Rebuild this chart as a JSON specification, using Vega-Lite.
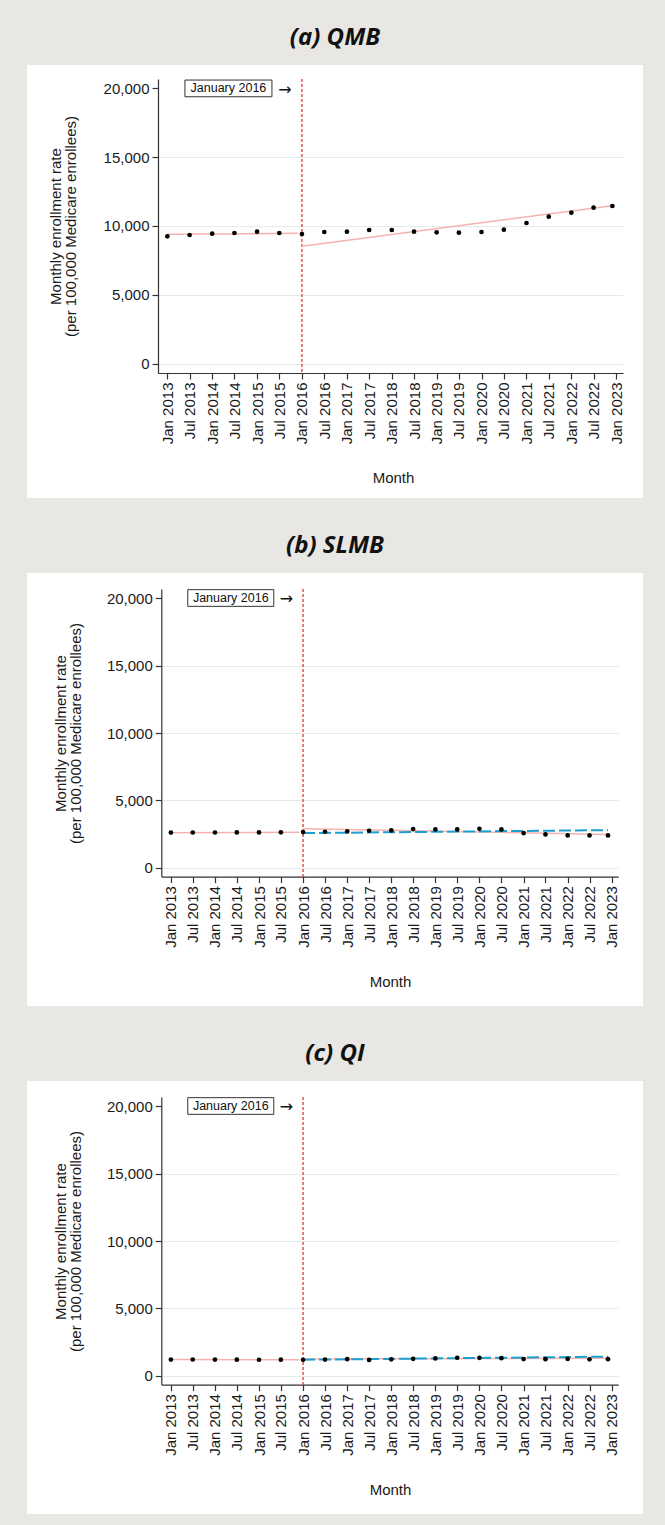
{
  "$schema": "https://vega.github.io/schema/vega-lite/v6.json",
  "background": "#e8e7e4",
  "padding": {"left": 27, "top": 26, "right": 22, "bottom": 14},
  "spacing": 35,
  "config": {
    "view": {"stroke": null, "fill": "white"},
    "font": "Liberation Sans",
    "axis": {
      "labelFont": "Liberation Sans", "titleFont": "Liberation Sans",
      "labelFontSize": 15, "titleFontSize": 15, "titleFontWeight": "normal",
      "labelColor": "#1a1a1a", "titleColor": "#1a1a1a",
      "tickColor": "#333333", "tickSize": 6, "tickWidth": 1.2,
      "domainColor": "#333333", "domainWidth": 1.2
    },
    "title": {"font": "Open Sans", "fontSize": 24, "fontStyle": "italic", "fontWeight": "bold", "color": "#111111", "anchor": "middle", "frame": "bounds", "offset": 14}
  },
  "vconcat": [
    {
      "title": "(a) QMB",
      "width": 616, "height": 433,
      "data": {"values": [
        {"month": "2013-01-01", "rate": 9252, "series": "obs"},
        {"month": "2013-07-01", "rate": 9346, "series": "obs"},
        {"month": "2014-01-01", "rate": 9441, "series": "obs"},
        {"month": "2014-07-01", "rate": 9492, "series": "obs"},
        {"month": "2015-01-01", "rate": 9586, "series": "obs"},
        {"month": "2015-07-01", "rate": 9492, "series": "obs"},
        {"month": "2016-01-01", "rate": 9419, "series": "obs"},
        {"month": "2016-07-01", "rate": 9564, "series": "obs"},
        {"month": "2017-01-01", "rate": 9586, "series": "obs"},
        {"month": "2017-07-01", "rate": 9710, "series": "obs"},
        {"month": "2018-01-01", "rate": 9710, "series": "obs"},
        {"month": "2018-07-01", "rate": 9586, "series": "obs"},
        {"month": "2019-01-01", "rate": 9540, "series": "obs"},
        {"month": "2019-07-01", "rate": 9516, "series": "obs"},
        {"month": "2020-01-01", "rate": 9564, "series": "obs"},
        {"month": "2020-07-01", "rate": 9734, "series": "obs"},
        {"month": "2021-01-01", "rate": 10218, "series": "obs"},
        {"month": "2021-07-01", "rate": 10678, "series": "obs"},
        {"month": "2022-01-01", "rate": 10968, "series": "obs"},
        {"month": "2022-07-01", "rate": 11330, "series": "obs"},
        {"month": "2022-12-01", "rate": 11452, "series": "obs"},
        {"month": "2013-01-01", "rate": 9395, "series": "pre"},
        {"month": "2015-12-01", "rate": 9470, "series": "pre"},
        {"month": "2016-01-01", "rate": 8524, "series": "post"},
        {"month": "2022-12-01", "rate": 11474, "series": "post"},
        {"month": "2016-01-01", "series": "event", "label": "January 2016"}
      ]},
      "encoding": {
        "x": {"field": "month", "type": "temporal",
          "scale": {"type": "utc", "domain": [{"year": 2009, "month": 11, "date": 16, "utc": true}, {"year": 2023, "month": 8, "date": 7, "utc": true}]},
          "axis": {"title": "Month", "format": "%b %Y", "labelAngle": 270, "labelPadding": 3, "titlePadding": 27, "titleX": 366,
            "offset": -125, "domain": true, "domainDash": [0, 131, 465, 300], "labelOverlap": false, "labelFlush": false, "grid": false,
            "values": [
              {"year": 2013, "month": 1, "date": 1, "utc": true}, {"year": 2013, "month": 7, "date": 1, "utc": true},
              {"year": 2014, "month": 1, "date": 1, "utc": true}, {"year": 2014, "month": 7, "date": 1, "utc": true},
              {"year": 2015, "month": 1, "date": 1, "utc": true}, {"year": 2015, "month": 7, "date": 1, "utc": true},
              {"year": 2016, "month": 1, "date": 1, "utc": true}, {"year": 2016, "month": 7, "date": 1, "utc": true},
              {"year": 2017, "month": 1, "date": 1, "utc": true}, {"year": 2017, "month": 7, "date": 1, "utc": true},
              {"year": 2018, "month": 1, "date": 1, "utc": true}, {"year": 2018, "month": 7, "date": 1, "utc": true},
              {"year": 2019, "month": 1, "date": 1, "utc": true}, {"year": 2019, "month": 7, "date": 1, "utc": true},
              {"year": 2020, "month": 1, "date": 1, "utc": true}, {"year": 2020, "month": 7, "date": 1, "utc": true},
              {"year": 2021, "month": 1, "date": 1, "utc": true}, {"year": 2021, "month": 7, "date": 1, "utc": true},
              {"year": 2022, "month": 1, "date": 1, "utc": true}, {"year": 2022, "month": 7, "date": 1, "utc": true},
              {"year": 2023, "month": 1, "date": 1, "utc": true}
            ]}}
      },
      "layer": [
        {"transform": [{"filter": "datum.series === 'event'"}],
          "mark": {"type": "rule", "color": "#e8372c", "strokeWidth": 1.3,
            "strokeDash": [0, 14, 3,2,3,2,3,2,3,2,3,2,3,2,3,2,3,2,3,2,3,2, 3,2,3,2,3,2,3,2,3,2,3,2,3,2,3,2,3,2,3,2, 3,2,3,2,3,2,3,2,3,2,3,2,3,2,3,2,3,2,3,2, 3,2,3,2,3,2,3,2,3,2,3,2,3,2,3,2,3,2,3,2, 3,2,3,2,3,2,3,2,3,2,3,2,3,2,3,2,3,2,3,2, 3,2,3,2,3,2,3,2,3,2,3,2,3,2,3,2, 3, 300]}},
        {"transform": [{"filter": "datum.series === 'pre' || datum.series === 'post'"}],
          "mark": {"type": "line", "color": "#f5b3b0", "strokeWidth": 1.5},
          "encoding": {
            "detail": {"field": "series"},
            "y": {"field": "rate", "type": "quantitative", "scale": {"domain": [-9753, 21692], "nice": false, "zero": false}}}},
        {"transform": [{"filter": "datum.series === 'obs'"}],
          "mark": {"type": "circle", "size": 22, "color": "black", "opacity": 1},
          "encoding": {
            "y": {"field": "rate", "type": "quantitative", "title": ["Monthly enrollment rate", "(per 100,000 Medicare enrollees)"],
              "scale": {"domain": [-9753, 21692], "nice": false, "zero": false},
              "axis": {"values": [0, 5000, 10000, 15000, 20000], "format": ",.0f", "offset": -131,
                "domain": true, "domainDash": [0, 125, 294, 300],
                "labelOverlap": false, "labelPadding": 3, "titlePadding": 25, "titleY": 161, "titleLineHeight": 15,
                "grid": true, "gridDash": [0, 131, 465, 300], "gridColor": "#e0ecef", "gridWidth": 1,
                "gridOpacity": {"condition": {"test": "datum.value === 20000", "value": 0}, "value": 1}}}}},
        {"transform": [{"filter": "datum.series === 'event'"}],
          "mark": {"type": "point", "shape": "M-1,-0.192H1V0.192H-1Z", "size": 7569, "filled": true, "fill": "white", "stroke": "#333333", "strokeWidth": 1, "opacity": 1, "xOffset": -73.5, "yOffset": -193.1}},
        {"transform": [{"filter": "datum.series === 'event'"}],
          "mark": {"type": "text", "fontSize": 12.5, "font": "Liberation Sans", "color": "#111111", "dx": -73.5, "dy": -193.1},
          "encoding": {"text": {"field": "label"}}},
        {"transform": [{"filter": "datum.series === 'event'"}],
          "mark": {"type": "text", "text": "→", "fontSize": 16, "font": "DejaVu Sans", "color": "#111111", "dx": -17, "dy": -191.5}}
      ]
    },
    {
      "title": "(b) SLMB",
      "width": 616, "height": 433,
      "data": {"values": [
        {"month": "2013-01-01", "rate": 2610, "series": "obs"},
        {"month": "2013-07-01", "rate": 2620, "series": "obs"},
        {"month": "2014-01-01", "rate": 2620, "series": "obs"},
        {"month": "2014-07-01", "rate": 2625, "series": "obs"},
        {"month": "2015-01-01", "rate": 2625, "series": "obs"},
        {"month": "2015-07-01", "rate": 2630, "series": "obs"},
        {"month": "2016-01-01", "rate": 2647, "series": "obs"},
        {"month": "2016-07-01", "rate": 2672, "series": "obs"},
        {"month": "2017-01-01", "rate": 2697, "series": "obs"},
        {"month": "2017-07-01", "rate": 2747, "series": "obs"},
        {"month": "2018-01-01", "rate": 2771, "series": "obs"},
        {"month": "2018-07-01", "rate": 2870, "series": "obs"},
        {"month": "2019-01-01", "rate": 2845, "series": "obs"},
        {"month": "2019-07-01", "rate": 2845, "series": "obs"},
        {"month": "2020-01-01", "rate": 2895, "series": "obs"},
        {"month": "2020-07-01", "rate": 2845, "series": "obs"},
        {"month": "2021-01-01", "rate": 2573, "series": "obs"},
        {"month": "2021-07-01", "rate": 2474, "series": "obs"},
        {"month": "2022-01-01", "rate": 2400, "series": "obs"},
        {"month": "2022-07-01", "rate": 2400, "series": "obs"},
        {"month": "2022-12-01", "rate": 2400, "series": "obs"},
        {"month": "2013-01-01", "rate": 2600, "series": "pre"},
        {"month": "2015-12-01", "rate": 2640, "series": "pre"},
        {"month": "2016-01-01", "rate": 2895, "series": "post"},
        {"month": "2022-12-01", "rate": 2474, "series": "post"},
        {"month": "2016-01-01", "rate": 2573, "series": "cf"},
        {"month": "2022-12-01", "rate": 2796, "series": "cf"},
        {"month": "2016-01-01", "series": "event", "label": "January 2016"}
      ]},
      "encoding": {
        "x": {"field": "month", "type": "temporal",
          "scale": {"type": "utc", "domain": [{"year": 2009, "month": 9, "date": 27, "utc": true}, {"year": 2023, "month": 9, "date": 17, "utc": true}]},
          "axis": {"title": "Month", "format": "%b %Y", "labelAngle": 270, "labelPadding": 3, "titlePadding": 27, "titleX": 363,
            "offset": -129.4, "domain": true, "domainDash": [0, 134.3, 457, 300], "labelOverlap": false, "labelFlush": false, "grid": false,
            "values": [
              {"year": 2013, "month": 1, "date": 1, "utc": true}, {"year": 2013, "month": 7, "date": 1, "utc": true},
              {"year": 2014, "month": 1, "date": 1, "utc": true}, {"year": 2014, "month": 7, "date": 1, "utc": true},
              {"year": 2015, "month": 1, "date": 1, "utc": true}, {"year": 2015, "month": 7, "date": 1, "utc": true},
              {"year": 2016, "month": 1, "date": 1, "utc": true}, {"year": 2016, "month": 7, "date": 1, "utc": true},
              {"year": 2017, "month": 1, "date": 1, "utc": true}, {"year": 2017, "month": 7, "date": 1, "utc": true},
              {"year": 2018, "month": 1, "date": 1, "utc": true}, {"year": 2018, "month": 7, "date": 1, "utc": true},
              {"year": 2019, "month": 1, "date": 1, "utc": true}, {"year": 2019, "month": 7, "date": 1, "utc": true},
              {"year": 2020, "month": 1, "date": 1, "utc": true}, {"year": 2020, "month": 7, "date": 1, "utc": true},
              {"year": 2021, "month": 1, "date": 1, "utc": true}, {"year": 2021, "month": 7, "date": 1, "utc": true},
              {"year": 2022, "month": 1, "date": 1, "utc": true}, {"year": 2022, "month": 7, "date": 1, "utc": true},
              {"year": 2023, "month": 1, "date": 1, "utc": true}
            ]}}
      },
      "layer": [
        {"transform": [{"filter": "datum.series === 'event'"}],
          "mark": {"type": "rule", "color": "#e8372c", "strokeWidth": 1.3,
            "strokeDash": [0, 16, 3,2,3,2,3,2,3,2,3,2,3,2,3,2,3,2,3,2,3,2, 3,2,3,2,3,2,3,2,3,2,3,2,3,2,3,2,3,2,3,2, 3,2,3,2,3,2,3,2,3,2,3,2,3,2,3,2,3,2,3,2, 3,2,3,2,3,2,3,2,3,2,3,2,3,2,3,2,3,2,3,2, 3,2,3,2,3,2,3,2,3,2,3,2,3,2,3,2,3,2,3,2, 3,2,3,2,3,2,3,2,3,2,3,2,3,2, 3, 300]}},
        {"transform": [{"filter": "datum.series === 'pre' || datum.series === 'post'"}],
          "mark": {"type": "line", "color": "#f5b3b0", "strokeWidth": 1.5},
          "encoding": {
            "detail": {"field": "series"},
            "y": {"field": "rate", "type": "quantitative", "scale": {"domain": [-10260, 21880], "nice": false, "zero": false}}}},
        {"transform": [{"filter": "datum.series === 'cf'"}],
          "mark": {"type": "line", "color": "#1f9fce", "strokeWidth": 2, "strokeDash": [12, 4]},
          "encoding": {
            "y": {"field": "rate", "type": "quantitative", "scale": {"domain": [-10260, 21880], "nice": false, "zero": false}}}},
        {"transform": [{"filter": "datum.series === 'obs'"}],
          "mark": {"type": "circle", "size": 22, "color": "black", "opacity": 1},
          "encoding": {
            "y": {"field": "rate", "type": "quantitative", "title": ["Monthly enrollment rate", "(per 100,000 Medicare enrollees)"],
              "scale": {"domain": [-10260, 21880], "nice": false, "zero": false},
              "axis": {"values": [0, 5000, 10000, 15000, 20000], "format": ",.0f", "offset": -134.3,
                "domain": true, "domainDash": [0, 129.4, 287.6, 300],
                "labelOverlap": false, "labelPadding": 3, "titlePadding": 23, "titleY": 160, "titleLineHeight": 15,
                "grid": true, "gridDash": [0, 134.3, 457, 300], "gridColor": "#e0ecef", "gridWidth": 1,
                "gridOpacity": {"condition": {"test": "datum.value === 20000", "value": 0}, "value": 1}}}}},
        {"transform": [{"filter": "datum.series === 'event'"}],
          "mark": {"type": "point", "shape": "M-1,-0.194H1V0.194H-1Z", "size": 7396, "filled": true, "fill": "white", "stroke": "#333333", "strokeWidth": 1, "opacity": 1, "xOffset": -72.3, "yOffset": -191.5}},
        {"transform": [{"filter": "datum.series === 'event'"}],
          "mark": {"type": "text", "fontSize": 12.5, "font": "Liberation Sans", "color": "#111111", "dx": -72.3, "dy": -191.5},
          "encoding": {"text": {"field": "label"}}},
        {"transform": [{"filter": "datum.series === 'event'"}],
          "mark": {"type": "text", "text": "→", "fontSize": 16, "font": "DejaVu Sans", "color": "#111111", "dx": -16.7, "dy": -190.5}}
      ]
    },
    {
      "title": "(c) QI",
      "width": 616, "height": 433,
      "data": {"values": [
        {"month": "2013-01-01", "rate": 1200, "series": "obs"},
        {"month": "2013-07-01", "rate": 1210, "series": "obs"},
        {"month": "2014-01-01", "rate": 1200, "series": "obs"},
        {"month": "2014-07-01", "rate": 1195, "series": "obs"},
        {"month": "2015-01-01", "rate": 1190, "series": "obs"},
        {"month": "2015-07-01", "rate": 1195, "series": "obs"},
        {"month": "2016-01-01", "rate": 1190, "series": "obs"},
        {"month": "2016-07-01", "rate": 1200, "series": "obs"},
        {"month": "2017-01-01", "rate": 1230, "series": "obs"},
        {"month": "2017-07-01", "rate": 1180, "series": "obs"},
        {"month": "2018-01-01", "rate": 1220, "series": "obs"},
        {"month": "2018-07-01", "rate": 1260, "series": "obs"},
        {"month": "2019-01-01", "rate": 1290, "series": "obs"},
        {"month": "2019-07-01", "rate": 1340, "series": "obs"},
        {"month": "2020-01-01", "rate": 1330, "series": "obs"},
        {"month": "2020-07-01", "rate": 1310, "series": "obs"},
        {"month": "2021-01-01", "rate": 1240, "series": "obs"},
        {"month": "2021-07-01", "rate": 1230, "series": "obs"},
        {"month": "2022-01-01", "rate": 1250, "series": "obs"},
        {"month": "2022-07-01", "rate": 1220, "series": "obs"},
        {"month": "2022-12-01", "rate": 1230, "series": "obs"},
        {"month": "2013-01-01", "rate": 1200, "series": "pre"},
        {"month": "2015-12-01", "rate": 1195, "series": "pre"},
        {"month": "2016-01-01", "rate": 1240, "series": "post"},
        {"month": "2022-12-01", "rate": 1310, "series": "post"},
        {"month": "2016-01-01", "rate": 1190, "series": "cf"},
        {"month": "2022-12-01", "rate": 1420, "series": "cf"},
        {"month": "2016-01-01", "series": "event", "label": "January 2016"}
      ]},
      "encoding": {
        "x": {"field": "month", "type": "temporal",
          "scale": {"type": "utc", "domain": [{"year": 2009, "month": 9, "date": 27, "utc": true}, {"year": 2023, "month": 9, "date": 17, "utc": true}]},
          "axis": {"title": "Month", "format": "%b %Y", "labelAngle": 270, "labelPadding": 3, "titlePadding": 27, "titleX": 363,
            "offset": -129.4, "domain": true, "domainDash": [0, 134.3, 457, 300], "labelOverlap": false, "labelFlush": false, "grid": false,
            "values": [
              {"year": 2013, "month": 1, "date": 1, "utc": true}, {"year": 2013, "month": 7, "date": 1, "utc": true},
              {"year": 2014, "month": 1, "date": 1, "utc": true}, {"year": 2014, "month": 7, "date": 1, "utc": true},
              {"year": 2015, "month": 1, "date": 1, "utc": true}, {"year": 2015, "month": 7, "date": 1, "utc": true},
              {"year": 2016, "month": 1, "date": 1, "utc": true}, {"year": 2016, "month": 7, "date": 1, "utc": true},
              {"year": 2017, "month": 1, "date": 1, "utc": true}, {"year": 2017, "month": 7, "date": 1, "utc": true},
              {"year": 2018, "month": 1, "date": 1, "utc": true}, {"year": 2018, "month": 7, "date": 1, "utc": true},
              {"year": 2019, "month": 1, "date": 1, "utc": true}, {"year": 2019, "month": 7, "date": 1, "utc": true},
              {"year": 2020, "month": 1, "date": 1, "utc": true}, {"year": 2020, "month": 7, "date": 1, "utc": true},
              {"year": 2021, "month": 1, "date": 1, "utc": true}, {"year": 2021, "month": 7, "date": 1, "utc": true},
              {"year": 2022, "month": 1, "date": 1, "utc": true}, {"year": 2022, "month": 7, "date": 1, "utc": true},
              {"year": 2023, "month": 1, "date": 1, "utc": true}
            ]}}
      },
      "layer": [
        {"transform": [{"filter": "datum.series === 'event'"}],
          "mark": {"type": "rule", "color": "#e8372c", "strokeWidth": 1.3,
            "strokeDash": [0, 16, 3,2,3,2,3,2,3,2,3,2,3,2,3,2,3,2,3,2,3,2, 3,2,3,2,3,2,3,2,3,2,3,2,3,2,3,2,3,2,3,2, 3,2,3,2,3,2,3,2,3,2,3,2,3,2,3,2,3,2,3,2, 3,2,3,2,3,2,3,2,3,2,3,2,3,2,3,2,3,2,3,2, 3,2,3,2,3,2,3,2,3,2,3,2,3,2,3,2,3,2,3,2, 3,2,3,2,3,2,3,2,3,2,3,2,3,2, 3, 300]}},
        {"transform": [{"filter": "datum.series === 'pre' || datum.series === 'post'"}],
          "mark": {"type": "line", "color": "#f5b3b0", "strokeWidth": 1.5},
          "encoding": {
            "detail": {"field": "series"},
            "y": {"field": "rate", "type": "quantitative", "scale": {"domain": [-10260, 21880], "nice": false, "zero": false}}}},
        {"transform": [{"filter": "datum.series === 'cf'"}],
          "mark": {"type": "line", "color": "#1f9fce", "strokeWidth": 2, "strokeDash": [12, 4]},
          "encoding": {
            "y": {"field": "rate", "type": "quantitative", "scale": {"domain": [-10260, 21880], "nice": false, "zero": false}}}},
        {"transform": [{"filter": "datum.series === 'obs'"}],
          "mark": {"type": "circle", "size": 22, "color": "black", "opacity": 1},
          "encoding": {
            "y": {"field": "rate", "type": "quantitative", "title": ["Monthly enrollment rate", "(per 100,000 Medicare enrollees)"],
              "scale": {"domain": [-10260, 21880], "nice": false, "zero": false},
              "axis": {"values": [0, 5000, 10000, 15000, 20000], "format": ",.0f", "offset": -134.3,
                "domain": true, "domainDash": [0, 129.4, 287.6, 300],
                "labelOverlap": false, "labelPadding": 3, "titlePadding": 23, "titleY": 160, "titleLineHeight": 15,
                "grid": true, "gridDash": [0, 134.3, 457, 300], "gridColor": "#e0ecef", "gridWidth": 1,
                "gridOpacity": {"condition": {"test": "datum.value === 20000", "value": 0}, "value": 1}}}}},
        {"transform": [{"filter": "datum.series === 'event'"}],
          "mark": {"type": "point", "shape": "M-1,-0.194H1V0.194H-1Z", "size": 7396, "filled": true, "fill": "white", "stroke": "#333333", "strokeWidth": 1, "opacity": 1, "xOffset": -72.3, "yOffset": -191.5}},
        {"transform": [{"filter": "datum.series === 'event'"}],
          "mark": {"type": "text", "fontSize": 12.5, "font": "Liberation Sans", "color": "#111111", "dx": -72.3, "dy": -191.5},
          "encoding": {"text": {"field": "label"}}},
        {"transform": [{"filter": "datum.series === 'event'"}],
          "mark": {"type": "text", "text": "→", "fontSize": 16, "font": "DejaVu Sans", "color": "#111111", "dx": -16.7, "dy": -190.5}}
      ]
    }
  ]
}
